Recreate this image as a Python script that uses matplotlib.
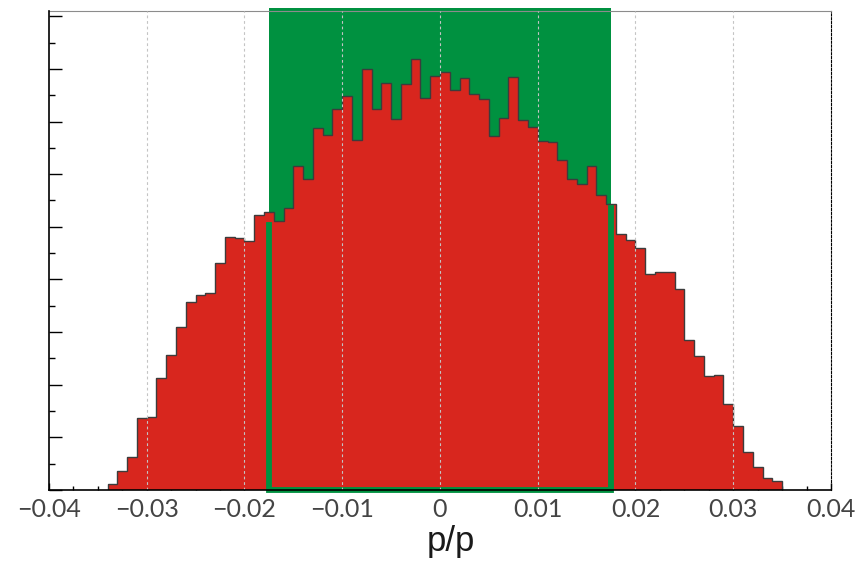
import numpy as np
import matplotlib.pyplot as plt
from matplotlib.patches import Rectangle
from matplotlib.ticker import MultipleLocator, NullFormatter, FuncFormatter

# histogram bins (width 0.001) and counts
bin_edges = np.round(np.arange(-0.034, 0.0351, 0.001), 4)
counts = [11, 36, 62, 136, 138, 213, 256, 310, 357, 371, 374, 432, 481, 478, 473,
          522, 528, 511, 535, 615, 591, 688, 674, 724, 748, 665, 800, 724, 773, 705,
          771, 819, 745, 787, 795, 759, 783, 753, 743, 672, 707, 785, 702, 689, 663,
          661, 627, 591, 581, 615, 561, 543, 487, 474, 459, 411, 415, 414, 382, 285,
          255, 216, 218, 164, 121, 72, 44, 23, 18]

# acceptance window
window_lo, window_hi = -0.0175, 0.0175

red = '#d8261e'
green = '#009140'

fig = plt.figure(figsize=(8.59, 5.61), dpi=100)
ax = fig.add_axes([0.057, 0.1266, 0.9104, 0.8538])
ymax = 910

# green window fill behind histogram
ax.add_patch(Rectangle((window_lo, 0), window_hi - window_lo, ymax * 1.007,
                       facecolor=green, edgecolor='none', zorder=1, clip_on=False))

ax.stairs(counts, bin_edges, fill=True, color=red, zorder=2)
ax.stairs(counts, bin_edges, color='#3c3c3c', linewidth=1.0, zorder=3)

# green window outline on top of the histogram
ax.plot([window_lo, window_lo, window_hi, window_hi], [counts[17] * 0.985, 0, 0, counts[51] * 0.985],
        color=green, linewidth=4.2, solid_joinstyle='miter', zorder=4, clip_on=False)

ax.set_xlim(-0.04, 0.04)
ax.set_ylim(0, ymax)

for gx in [-0.03, -0.02, -0.01, 0.0, 0.01, 0.02, 0.03]:
    ax.axvline(gx, color='#c4c4c4', linewidth=0.8, linestyle=(0, (2.5, 2.5)), zorder=5)

ax.xaxis.set_major_locator(MultipleLocator(0.01))
ax.xaxis.set_minor_locator(MultipleLocator(0.0025))
ax.yaxis.set_major_locator(MultipleLocator(100))
ax.yaxis.set_minor_locator(MultipleLocator(50))
ax.yaxis.set_major_formatter(NullFormatter())
ax.xaxis.set_major_formatter(FuncFormatter(lambda v, p: ('%.2f' % v).replace('-', '\u2212') if abs(v) > 1e-9 else '0'))

ax.tick_params(axis='x', which='major', direction='in', length=5, width=1, pad=6,
               labelsize=18, labelcolor='#444444', top=False)
ax.tick_params(axis='x', which='minor', direction='in', length=3, width=1, top=False)
ax.tick_params(axis='y', which='major', direction='in', length=9, width=1, right=False)
ax.tick_params(axis='y', which='minor', direction='in', length=4.5, width=1, right=False)
for lab in ax.get_xticklabels():
    lab.set_family(['Lato', 'DejaVu Sans'])

ax.spines['top'].set_color('#8c8c8c')
ax.spines['right'].set_linestyle((0, (2, 1.5)))
ax.spines['right'].set_color('black')
for s in ['left', 'bottom']:
    ax.spines[s].set_linewidth(1.2)
    ax.spines[s].set_zorder(6)

fig.text(0.5255, 0.018, 'p/p', ha='center', va='baseline', fontsize=25,
         family='Liberation Sans', color='#1a1a1a')

fig.savefig('out.png', dpi=100)
